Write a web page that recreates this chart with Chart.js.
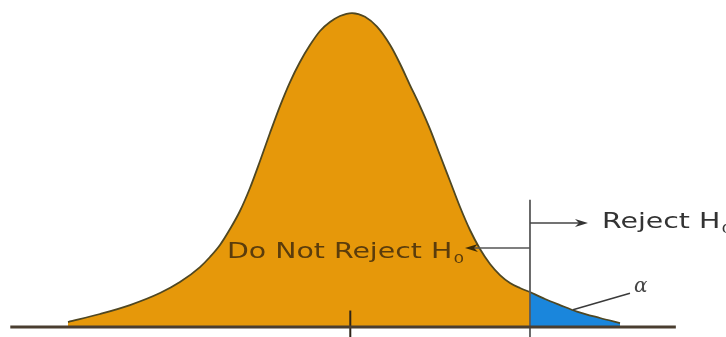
<!DOCTYPE html>
<html>
<head>
<meta charset="utf-8">
<script src="https://cdn.jsdelivr.net/npm/chart.js@4.4.1/dist/chart.umd.min.js"></script>
<style>
  body { margin: 0; background: #fff; }
  canvas { display: block; }
</style>
</head>
<body>
<canvas id="curve" width="726" height="337"></canvas>
<script>
// readings of the density curve along the standardized axis
const zValues = [-3.341, -2.965, -2.612, -2.259, -2.024, -1.788, -1.671, -1.553, -1.435, -1.318,
                 -1.200, -1.082, -0.965, -0.847, -0.729, -0.612, -0.494, -0.376, -0.259, -0.141,
                 0.000, 0.153, 0.294, 0.447, 0.565, 0.682, 0.800, 0.918, 1.035, 1.153,
                 1.271, 1.388, 1.506, 1.624, 1.741, 1.859, 1.976, 2.094, 2.271, 2.447,
                 2.647, 2.918, 3.153];
const density = [0.0064, 0.0166, 0.0280, 0.0433, 0.0573, 0.0764, 0.0892, 0.1045, 0.1248, 0.1478,
                 0.1771, 0.2115, 0.2471, 0.2815, 0.3121, 0.3376, 0.3592, 0.3771, 0.3885, 0.3962,
                 0.4000, 0.3953, 0.3826, 0.3595, 0.3354, 0.3083, 0.2815, 0.2522, 0.2191, 0.1860,
                 0.1529, 0.1236, 0.0994, 0.0803, 0.0662, 0.0561, 0.0497, 0.0446, 0.0357, 0.0280,
                 0.0197, 0.0115, 0.0051];
const criticalZ = 2.094;
const axisEnds = [-4.02, 3.81];
const meanZ = -0.02;

const points = zValues.map((z, i) => ({ x: z, y: density[i] }));
const acceptPts = points.filter(p => p.x <= criticalZ);
const rejectPts = points.filter(p => p.x >= criticalZ);

const Y_MIN = -0.0127, Y_MAX = 0.4166;

function arrowHead(ctx, tipX, tipY, dir) {
  ctx.beginPath();
  ctx.moveTo(tipX, tipY);
  ctx.lineTo(tipX - dir * 13, tipY - 4);
  ctx.lineTo(tipX - dir * 9, tipY);
  ctx.lineTo(tipX - dir * 13, tipY + 4);
  ctx.closePath();
  ctx.fill();
}

function stretchedText(ctx, text, sub, x0, baseline, stretch) {
  ctx.save();
  ctx.translate(x0, baseline);
  ctx.scale(stretch, 1);
  ctx.fillText(text, 0, 0);
  const w = ctx.measureText(text).width;
  ctx.font = '13px "DejaVu Sans"';
  ctx.fillText(sub, w + 1, 5);
  ctx.restore();
}

const labels = {
  id: 'labels',
  afterDatasetsDraw(chart) {
    const ctx = chart.ctx;
    const xs = chart.scales.x, ys = chart.scales.y;
    const cx = xs.getPixelForValue(criticalZ);
    ctx.save();

    // arrow into the rejection region
    const ry = ys.getPixelForValue(0.1325);
    ctx.strokeStyle = '#444';
    ctx.fillStyle = '#333';
    ctx.lineWidth = 1.5;
    ctx.beginPath();
    ctx.moveTo(cx, ry);
    ctx.lineTo(cx + 52, ry);
    ctx.stroke();
    arrowHead(ctx, cx + 58, ry, 1);

    // arrow back toward the acceptance region
    const ay = ys.getPixelForValue(0.1006);
    ctx.strokeStyle = '#555';
    ctx.beginPath();
    ctx.moveTo(cx, ay);
    ctx.lineTo(cx - 58, ay);
    ctx.stroke();
    ctx.fillStyle = '#3a2a08';
    arrowHead(ctx, cx - 65, ay, -1);

    ctx.textBaseline = 'alphabetic';
    ctx.font = '22px "DejaVu Sans"';
    ctx.fillStyle = '#333';
    stretchedText(ctx, 'Reject H', '0', cx + 72, ry + 5, 1.29);

    ctx.font = '22px "DejaVu Sans"';
    ctx.fillStyle = '#5a3c0c';
    stretchedText(ctx, 'Do Not Reject H', '0', cx - 303, ay + 10, 1.29);

    // alpha with its leader line
    ctx.strokeStyle = '#3a3a3a';
    ctx.beginPath();
    ctx.moveTo(cx + 43, ys.getPixelForValue(0.022));
    ctx.lineTo(cx + 100, ys.getPixelForValue(0.043));
    ctx.stroke();
    ctx.font = 'italic 20px "DejaVu Serif"';
    ctx.fillStyle = '#444';
    ctx.fillText('\u03b1', cx + 104, ys.getPixelForValue(0.045));

    ctx.restore();
  }
};

const outline = '#4f4722';

new Chart(document.getElementById('curve'), {
  type: 'line',
  data: {
    datasets: [
      {
        data: [{ x: axisEnds[0], y: 0 }, { x: axisEnds[1], y: 0 }],
        borderColor: '#4a3e30', borderWidth: 3, pointRadius: 0, fill: false, order: 0
      },
      {
        data: [{ x: meanZ, y: Y_MIN }, { x: meanZ, y: 0.021 }],
        borderColor: '#2e2418', borderWidth: 2, pointRadius: 0, fill: false, order: 0
      },
      {
        data: [{ x: criticalZ, y: Y_MIN }, { x: criticalZ, y: 0.162 }],
        borderColor: '#5a5a5a', borderWidth: 1.8, pointRadius: 0, fill: false, order: 0
      },
      {
        data: rejectPts,
        backgroundColor: '#1a86dc', borderColor: outline, borderWidth: 1.8,
        pointRadius: 0, fill: 'origin', cubicInterpolationMode: 'monotone', order: 2
      },
      {
        data: acceptPts,
        backgroundColor: '#e6980a', borderColor: outline, borderWidth: 1.8,
        pointRadius: 0, fill: 'origin', cubicInterpolationMode: 'monotone', order: 1
      }
    ]
  },
  options: {
    responsive: false,
    animation: false,
    devicePixelRatio: 1,
    layout: { padding: 0 },
    plugins: { legend: { display: false }, tooltip: { enabled: false } },
    scales: {
      x: { type: 'linear', min: -4.141, max: 4.4, display: false },
      y: { min: Y_MIN, max: Y_MAX, display: false }
    }
  },
  plugins: [labels]
});
</script>
</body>
</html>
